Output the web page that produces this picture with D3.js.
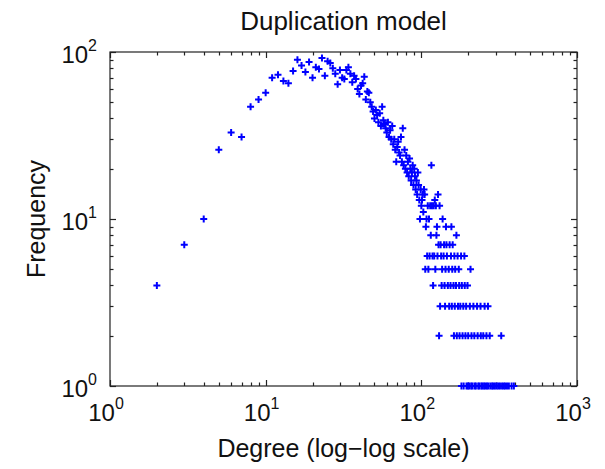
<!DOCTYPE html>
<html>
<head>
<meta charset="utf-8">
<script src="https://cdn.jsdelivr.net/npm/d3@7"></script>
<style>
  html, body { margin: 0; padding: 0; background: #fff; }
  text { font-family: "Liberation Sans", Arial, sans-serif; fill: #111; }
</style>
</head>
<body>
<svg id="chart" width="605" height="469"></svg>
<script>
// ---- data ----
const title = "Duplication model";
const xLabel = "Degree (log\u2212log scale)";
const yLabel = "Frequency";
const xTickExps = [0, 1, 2, 3];
const yTickExps = [0, 1, 2];

const degrees = [
  2, 3, 4, 5, 6, 7, 8, 9, 10, 11, 12, 13, 14, 15, 16, 17, 18, 19, 20,
  21, 22, 23, 24, 25, 26, 27, 28, 29, 30, 31, 32, 33, 34, 35, 36, 37, 38, 39, 40,
  41, 42, 43, 44, 45, 46, 47, 48, 49, 50, 51, 52, 53, 54, 55, 56, 57, 58, 59, 60,
  61, 62, 63, 64, 65, 66, 67, 68, 69, 70, 71, 72, 73, 74, 75, 76, 77, 78, 79, 80,
  81, 82, 83, 84, 85, 86, 87, 88, 89, 90, 91, 92, 93, 94, 95, 96, 97, 98, 99, 100,
  101, 102, 103, 104, 105, 106, 107, 108, 109, 110, 111, 112, 113, 114, 115, 116, 117, 118, 119, 120,
  121, 122, 123, 124, 125, 126, 127, 128, 129, 130, 131, 132, 133, 134, 135, 136, 137, 139, 140,
  141, 142, 143, 144, 145, 146, 148, 150, 151, 152, 154, 155, 156, 157, 158, 159,
  161, 162, 163, 164, 165, 167, 168, 169, 171, 172, 174, 175, 176, 178, 180,
  181, 182, 184, 186, 187, 189, 190, 192, 194, 195, 198, 199, 200,
  203, 205, 207, 209, 210, 213, 216, 219, 220, 224, 228, 230, 232, 236, 240,
  241, 243, 247, 250, 253, 255, 258, 262, 264, 268, 270, 275, 278, 285, 290, 297,
  305, 312, 320, 326, 330, 338, 345, 355, 365, 380, 393
];
const frequencies = [
  4, 7, 10, 26, 33, 31, 47, 52, 57, 70, 73, 67, 65, 77, 90, 83, 76, 87, 70,
  81, 79, 92, 72, 88, 86, 80, 74, 64, 78, 70, 69, 78, 81, 74, 66, 72, 69, 60, 56,
  63, 65, 71, 52, 58, 57, 50, 47, 44, 40, 45, 42, 38, 43, 36, 47, 39, 37, 35, 33,
  38, 31, 34, 30, 36, 28, 30, 26, 22, 27, 29, 25, 24, 31, 22, 35, 21, 26, 20, 24,
  19, 22, 18, 23, 20, 17, 19, 21, 16, 20, 18, 15, 17, 14, 19, 16, 13, 10, 15, 12,
  13, 14, 11, 15, 14, 5, 9, 10, 6, 12, 5, 10, 6, 12, 8, 21, 12, 6, 4, 12,
  6, 13, 5, 12, 8, 9, 6, 14, 7, 2, 12, 3, 7, 6, 4, 5, 10, 6, 7,
  4, 3, 5, 9, 7, 6, 4, 5, 3, 7, 4, 6, 9, 3, 5, 7,
  4, 2, 6, 3, 5, 4, 8, 2, 6, 3, 5, 4, 2, 3, 6,
  1, 4, 2, 3, 1, 6, 4, 2, 3, 1, 4, 1, 2,
  1, 3, 5, 1, 2, 1, 3, 2, 1, 1, 3, 2, 1, 1, 3,
  2, 1, 1, 2, 1, 3, 1, 2, 1, 3, 1, 2, 1, 1, 1, 1,
  1, 1, 1, 2, 1, 1, 1, 1, 1, 1, 1
];

// ---- layout ----
const svg = d3.select("#chart");
const L = 110, R = 577, T = 52, B = 386;

const x = d3.scaleLog().domain([1, 1000]).range([L, R]);
const y = d3.scaleLog().domain([1, 100]).range([B, T]);

const points = degrees.map((d, i) => ({ d, f: frequencies[i] }));

// frame
svg.append("rect")
  .attr("x", L).attr("y", T)
  .attr("width", R - L).attr("height", B - T)
  .attr("fill", "none").attr("stroke", "#222").attr("stroke-width", 1.2);

// ticks
const xMajor = xTickExps.map(e => Math.pow(10, e));
const yMajor = yTickExps.map(e => Math.pow(10, e));
const xMinor = [];
for (let e = 0; e < 3; e++) for (let m = 2; m <= 9; m++) xMinor.push(m * Math.pow(10, e));
const yMinor = [];
for (let e = 0; e < 2; e++) for (let m = 2; m <= 9; m++) yMinor.push(m * Math.pow(10, e));

const tickG = svg.append("g").attr("stroke", "#222").attr("stroke-width", 1.2);
function xt(vals, len) {
  vals.forEach(v => {
    const px = Math.round(x(v)) + 0.5;
    tickG.append("line").attr("x1", px).attr("x2", px).attr("y1", B).attr("y2", B - len);
    tickG.append("line").attr("x1", px).attr("x2", px).attr("y1", T).attr("y2", T + len);
  });
}
function yt(vals, len) {
  vals.forEach(v => {
    const py = Math.round(y(v)) + 0.5;
    tickG.append("line").attr("x1", L).attr("x2", L + len).attr("y1", py).attr("y2", py);
    tickG.append("line").attr("x1", R).attr("x2", R - len).attr("y1", py).attr("y2", py);
  });
}
xt(xMajor, 6); xt(xMinor, 3.5);
yt(yMajor, 6); yt(yMinor, 3.5);

// tick labels
xTickExps.forEach(e => {
  const t = svg.append("text")
    .attr("x", x(Math.pow(10, e)) - 4).attr("y", 421)
    .attr("text-anchor", "middle").style("font-size", "24px");
  t.append("tspan").text("10");
  t.append("tspan").attr("dy", -12).style("font-size", "16px").text(e);
});
yTickExps.forEach(e => {
  const t = svg.append("text")
    .attr("x", 97).attr("y", y(Math.pow(10, e)) + 11)
    .attr("text-anchor", "end").style("font-size", "24px");
  t.append("tspan").text("10");
  t.append("tspan").attr("dy", -12).style("font-size", "16px").text(e);
});

// markers
const s = 3.5;
svg.append("g").selectAll("path").data(points).join("path")
  .attr("d", p => {
    const cx = x(p.d), cy = y(p.f);
    return `M${cx - s},${cy}H${cx + s}M${cx},${cy - s}V${cy + s}`;
  })
  .attr("stroke", "#0000ff").attr("stroke-width", 2).attr("fill", "none");

// titles
svg.append("text").attr("x", (L + R) / 2).attr("y", 30)
  .attr("text-anchor", "middle").style("font-size", "26px").text(title);
svg.append("text").attr("x", (L + R) / 2).attr("y", 457)
  .attr("text-anchor", "middle").style("font-size", "25px").text(xLabel);
svg.append("text")
  .attr("transform", `translate(45,${(T + B) / 2}) rotate(-90)`)
  .attr("text-anchor", "middle").style("font-size", "25px").text(yLabel);
</script>
</body>
</html>
